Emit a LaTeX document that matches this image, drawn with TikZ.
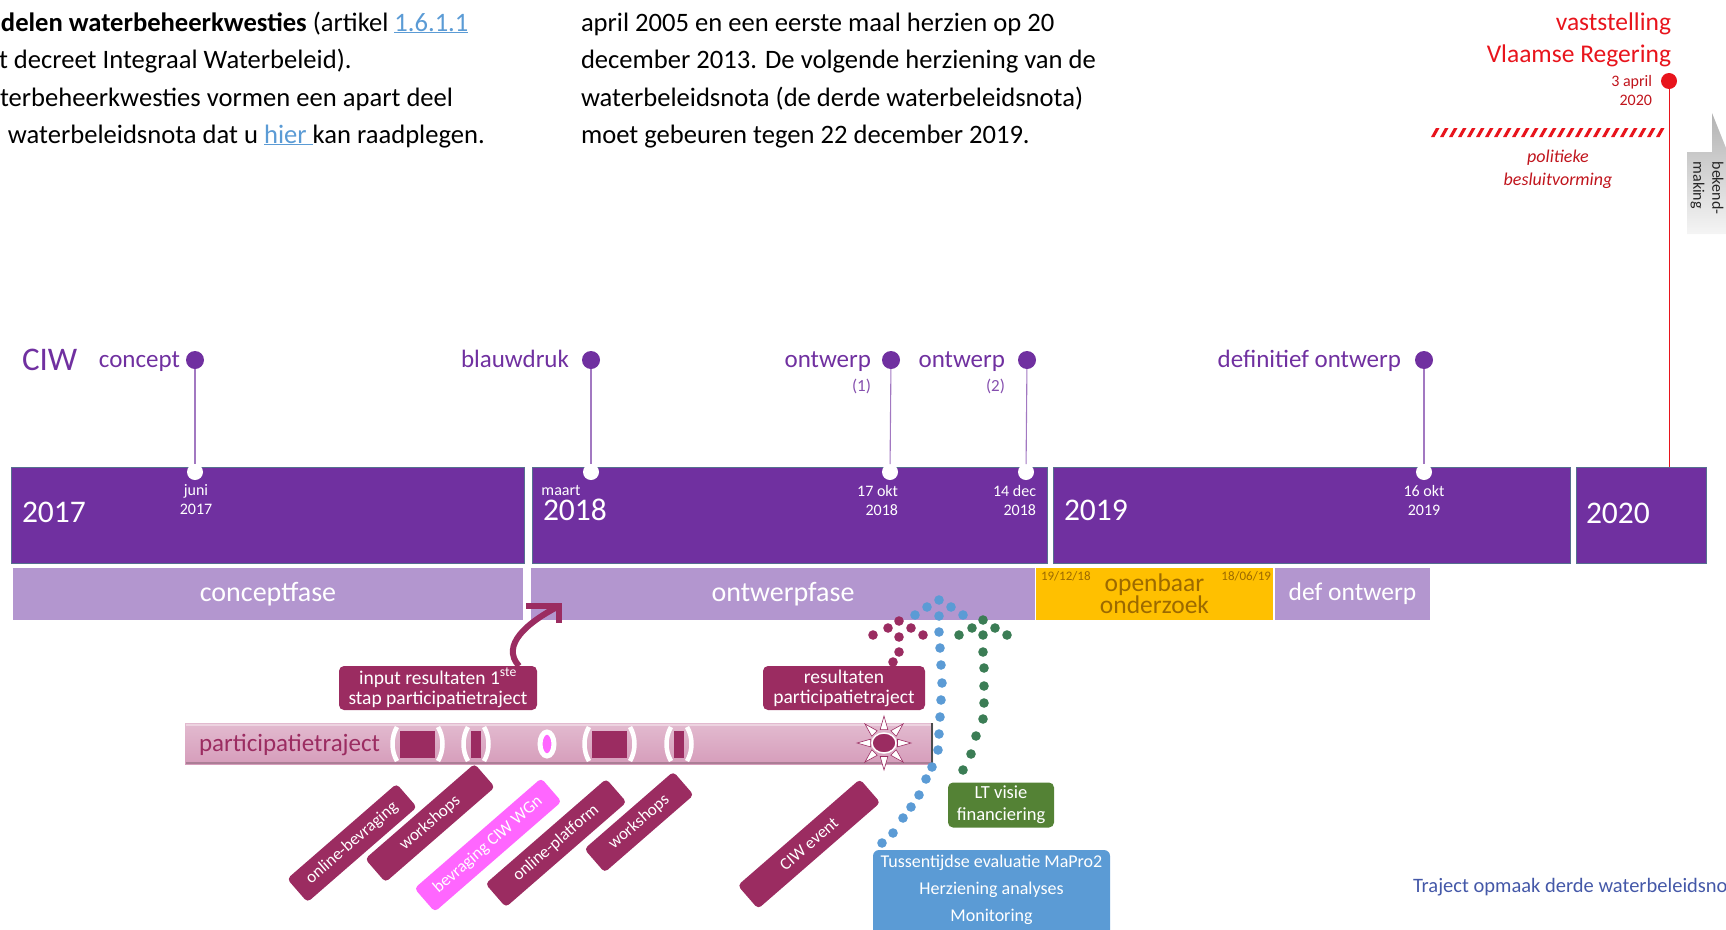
\documentclass[tikz,border=0pt]{standalone}
\usepackage{fontspec}
\setmainfont{Carlito}
\usetikzlibrary{shapes.geometric,calc}
\definecolor{ciwpurple}{HTML}{7030A0}
\definecolor{barline}{HTML}{56708F}
\definecolor{phase}{HTML}{B396CF}
\definecolor{gold}{HTML}{FFC000}
\definecolor{goldtxt}{HTML}{9C6A00}
\definecolor{mag}{HTML}{9B2C61}
\definecolor{pinkbar}{HTML}{D69DBB}
\definecolor{brightpink}{HTML}{FF66FF}
\definecolor{blueb}{HTML}{5B9BD5}
\definecolor{greenb}{HTML}{548235}
\definecolor{greendot}{HTML}{3B7D55}
\definecolor{redv}{HTML}{E8141C}
\definecolor{darkred}{HTML}{C0141C}
\definecolor{linkblue}{HTML}{5B9BD5}
\definecolor{trajblue}{HTML}{4458A8}
\newcommand\myfs[2]{\fontsize{#1pt}{#2pt}\selectfont}
\newcommand\lnk[1]{\textcolor{linkblue}{\underline{#1}}}
\begin{document}
\begin{tikzpicture}[x=1pt,y=-1pt,every node/.append style={inner sep=0pt,outer sep=0pt}]
\tikzset{
  yearbar/.style={rectangle,fill=ciwpurple,draw=barline,line width=0.8pt,anchor=north west,minimum height=96pt},
  yeartxt/.style={anchor=base west,text=white,font=\myfs{31.5}{36}},
  phasebox/.style={rectangle,fill=phase,anchor=north west,minimum height=52pt,text=white,font=\myfs{28}{30}},
  msdot/.style={circle,fill=ciwpurple,minimum size=18pt},
  wdot/.style={circle,fill=white,minimum size=16pt},
  msline/.style={draw=ciwpurple!65,line width=1.1pt},
  mslabel/.style={anchor=base east,text=ciwpurple,font=\myfs{25}{28}},
  numlabel/.style={anchor=base east,text=ciwpurple!85,font=\myfs{17}{20}},
  datetxt/.style={text=white,font=\myfs{16}{19},align=center},
  magbox/.style={rectangle,rounded corners=5pt,fill=mag,text=white,align=center,font=\myfs{19.5}{20}},
  tag/.style={rectangle,rounded corners=4pt,fill=mag,text=white,rotate=41,minimum width=145pt,minimum height=31pt,font=\myfs{17}{20}},
  bodytxt/.style={anchor=base west,font=\myfs{26.6}{37}},
  bracket/.style={white,line width=4.5pt},
}
\useasboundingbox (0,0) rectangle (1726,929);
\clip (0,0) rectangle (1726,929);

% ---- top text ----
\node[bodytxt] (t1) at (1,31) {\textbf{delen waterbeheerkwesties} (artikel \lnk{1.6.1.1}};
\node[bodytxt] (t2) at (-1,68) {t decreet Integraal Waterbeleid).};
\node[bodytxt] (t3) at (0,106) {terbeheerkwesties vormen een apart deel};
\node[bodytxt] (t4) at (8,143) {waterbeleidsnota dat u \lnk{hier\ }kan raadplegen.};
\node[bodytxt] (m1t) at (581,31) {april 2005 en een eerste maal herzien op 20};
\node[bodytxt] (m2t) at (581,68) {december 2013. De volgende herziening van de};
\node[bodytxt] (m3t) at (581,106) {waterbeleidsnota (de derde waterbeleidsnota)};
\node[bodytxt] (m4t) at (581,143) {moet gebeuren tegen 22 december 2019.};

% ---- year bars ----
\node[yearbar,minimum width=513pt] (y2017) at (11,467) {};
\node[yearbar,minimum width=515pt] (y2018) at (532,467) {};
\node[yearbar,minimum width=517pt] (y2019) at (1053,467) {};
\node[yearbar,minimum width=130pt] (y2020) at (1576,467) {};
\node[yeartxt] (yt1) at (22,522) {2017};
\node[yeartxt] (yt2) at (543,520) {2018};
\node[yeartxt] (yt3) at (1064,520) {2019};
\node[yeartxt] (yt4) at (1586,523) {2020};

% ---- phases ----
\node[phasebox,minimum width=510pt] (pc) at (13,568) {conceptfase};
\node[phasebox,minimum width=504pt] (po) at (531,568) {ontwerpfase};
\node[phasebox,fill=gold,minimum width=237pt,text=goldtxt,align=center,font=\myfs{25.5}{22}] (poo) at (1036,568) {openbaar\\onderzoek};
\node[phasebox,minimum width=155pt,font=\myfs{25.5}{28}] (pd) at (1275,568) {def ontwerp};
\node[anchor=west,text=goldtxt,font=\myfs{13}{15}] (dd1) at (1041,576) {19/12/18};
\node[anchor=east,text=goldtxt,font=\myfs{13}{15}] (dd2) at (1271,576) {18/06/19};

% ---- milestones ----
\node[msdot] (ms1) at (195,360) {};
\node[msdot] (ms2) at (591,360) {};
\node[msdot] (ms3) at (891,360) {};
\node[msdot] (ms4) at (1027,360) {};
\node[msdot] (ms5) at (1424,360) {};
\node[wdot] (wd1) at (195,472) {};
\node[wdot] (wd2) at (591,472) {};
\node[wdot] (wd3) at (890,472) {};
\node[wdot] (wd4) at (1026,472) {};
\node[wdot] (wd5) at (1424,472) {};
\foreach \i in {1,...,5} \draw[msline] (ms\i) -- (wd\i);
\node[anchor=base west,text=ciwpurple,font=\myfs{33}{36}] (ciw) at (22,370) {CIW};
\node[mslabel] (l1) at (180,367) {concept};
\node[mslabel] (l2) at (569,367) {blauwdruk};
\node[mslabel] (l3) at (871,367) {ontwerp};
\node[numlabel] (n3) at (871,391) {(1)};
\node[mslabel] (l4) at (1005,367) {ontwerp};
\node[numlabel] (n4) at (1005,391) {(2)};
\node[mslabel] (l5) at (1401,367) {definitief ontwerp};
\node[datetxt] (d1) at (196,500) {juni\\2017};
\node[datetxt] (d2) at (561,490) {maart};
\node[datetxt,align=right,anchor=east] (d3) at (898,500) {17 okt\\2018};
\node[datetxt,align=right,anchor=east] (d4) at (1036,500) {14 dec\\2018};
\node[datetxt] (d5) at (1424,500) {16 okt\\2019};

% ---- red part ----
\node[circle,fill=redv,minimum size=16pt] (rdot) at (1669,81) {};
\draw[redv,line width=1pt] (rdot) -- (rdot |- y2020.north);
\node[anchor=base east,text=redv,font=\myfs{25.5}{28}] (vast) at (1671,30) {vaststelling};
\node[anchor=base east,text=redv,font=\myfs{25.5}{28}] (vr) at (1671,62) {Vlaamse Regering};
\node[anchor=base east,text=darkred,font=\myfs{16}{19}] (apr1) at (1652,86) {3 april};
\node[anchor=base east,text=darkred,font=\myfs{16}{19}] (apr2) at (1652,105) {2020};
\foreach \i in {0,...,25} \fill[redv] ({1431+\i*9},137) -- ++(3.5,0) -- ++(5,-9) -- ++(-3.5,0) -- cycle;
\node[text=darkred,font=\myfs{18}{23}\itshape,align=center] (pol) at (1558,169) {politieke\\besluitvorming};
\shade[top color=gray!60,bottom color=gray!8] (1712,113) -- (1730,158) -- (1730,234) -- (1687,234) -- (1687,152) -- (1712,152) -- cycle;
\node[rotate=-90,align=left,font=\myfs{16}{19},text=black!85] (bek) at (1707,188) {bekend-\\making};

% ---- participatietraject ----
\node[rectangle,minimum width=748pt,minimum height=41pt,anchor=north west,top color=pinkbar!70!white,bottom color=pinkbar] (pbar) at (185,723) {};
\draw[pinkbar!45!white,line width=2.5pt] (186,725) -- (932,725);
\draw[pinkbar!80!black,line width=1.5pt] (186,763) -- (932,763);
\draw[gray!60!black,line width=2.5pt] (932,723) -- (932,764);
\node[anchor=base west,text=mag,font=\myfs{25}{28}] (ptxt) at (199,751) {participatietraject};
\foreach \a/\b in {400/435,471/481,592/627,674/684}{
  \fill[mag] (\a,731) rectangle (\b,758);
  \draw[bracket] ({\a-3},727) .. controls ({\a-9},737) and ({\a-9},751) .. ({\a-3},761);
  \draw[bracket] ({\b+3},727) .. controls ({\b+9},737) and ({\b+9},751) .. ({\b+3},761);
}
\draw[white,line width=5pt,fill=brightpink] (547,744) ellipse [x radius=7,y radius=12];
\foreach \a in {0,45,...,315}
  \filldraw[fill=white,draw=mag,line width=0.6pt] ($(884,743)+(\a:27)$) -- ($(884,743)+(\a+16:14)$) -- ($(884,743)+(\a-16:14)$) -- cycle;
\node[ellipse,fill=mag,draw=white,line width=1.5pt,minimum width=24pt,minimum height=20pt] (sun) at (884,743) {};

% ---- boxes ----
\node[magbox,minimum width=198pt,minimum height=44pt] (inp) at (438,688) {input resultaten 1\textsuperscript{ste}\\stap participatietraject};
\node[magbox,minimum width=162pt,minimum height=44pt] (res) at (844,688) {resultaten\\participatietraject};
\node[rectangle,rounded corners=5pt,fill=greenb,text=white,align=center,minimum width=106pt,minimum height=45pt,font=\myfs{18.5}{22}] (lt) at (1001,805) {LT visie\\financiering};
\node[rectangle,rounded corners=6pt,fill=blueb,minimum width=237pt,minimum height=95pt,anchor=north] (tussbox) at (991.5,850) {};
\node[align=center,text=white,font=\myfs{18}{27}] (tuss) at (991.5,890) {Tussentijdse evaluatie MaPro2\\Herziening analyses\\Monitoring};

\coordinate (atip) at (559,606);
\draw[mag,line width=6pt] ([xshift=-18pt]inp.north east) .. controls (500,645) and (528,622) .. (atip);
\draw[mag,line width=6pt,line join=miter] (526,606) -- (atip) -- (559,623);

% ---- rotated tags ----
\node[tag] (ob) at (352,843) {online-bevraging};
\node[tag] (ws1) at (430,823) {workshops};
\node[tag,fill=brightpink,minimum width=168pt] (bc) at (488,845) {bevraging CIW WGn};
\node[tag,minimum width=160pt] (op) at (556,843) {online-platform};
\node[tag,minimum width=118pt] (ws2) at (639,822) {workshops};
\node[tag,minimum width=162pt] (ce) at (809,844) {CIW event};

% ---- dotted arrows ----
\foreach \x/\y in {873/635,888/628,899/621,911/628,923/635,899/637,899/652,893/662}
  \fill[mag] (\x,\y) circle (4.8);
\foreach \x/\y in {882/843,893/833,903/818,911/807,919/795,926/779,932/767,938/750,939/734,940/717,941/700,942/683,941/665,940/648,939/632,939/616,939/600,927/607,915/615,951/607,963/615}
  \fill[blueb] (\x,\y) circle (4.8);
\foreach \x/\y in {963/770,971/754,976/736,983/719,984/703,984/686,984/668,983/652,983/635,983/620,972/628,959/635,995/628,1007/635}
  \fill[greendot] (\x,\y) circle (4.8);

\node[anchor=base west,text=trajblue,font=\myfs{20.5}{24}] (traj) at (1413,892) {Traject opmaak derde waterbeleidsnota};
\end{tikzpicture}
\end{document}
